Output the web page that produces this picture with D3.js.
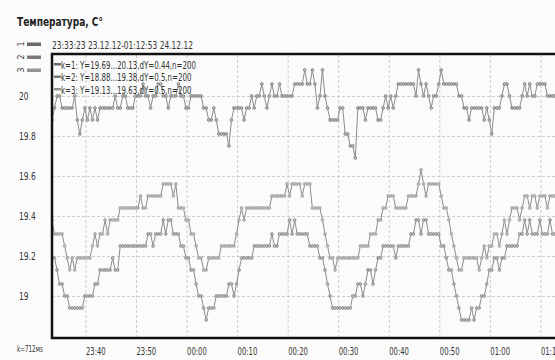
<!DOCTYPE html>
<html><head><meta charset="utf-8">
<script src="https://cdn.jsdelivr.net/npm/d3@7"></script>
<style>body{margin:0;background:#fff}svg{display:block}</style>
</head><body><svg id="c" width="555" height="360"></svg>
<script>
const title = "Температура, С°";
const header = "23:33:23 23.12.12-01:12:53 24.12.12";
const footNote = "k=712мs";
const startTime = "2012-12-23T23:33:23";
const endTime = "2012-12-24T01:12:53";
const yTicks = [19, 19.2, 19.4, 19.6, 19.8, 20];
const yTickLabels = ["19", "19.2", "19.4", "19.6", "19.8", "20"];
const xTicks = ["2012-12-23T23:40:00","2012-12-23T23:50:00","2012-12-24T00:00:00","2012-12-24T00:10:00","2012-12-24T00:20:00","2012-12-24T00:30:00","2012-12-24T00:40:00","2012-12-24T00:50:00","2012-12-24T01:00:00","2012-12-24T01:10:00"];
const xTickLabels = ["23:40","23:50","00:00","00:10","00:20","00:30","00:40","00:50","01:00","01:10"];
const seriesKeys = ["1", "2", "3"];
const seriesLabels = [
  "k=1: Y=19.69...20.13,dY=0.44,n=200",
  "k=2: Y=18.88...19.38,dY=0.5,n=200",
  "k=3: Y=19.13...19.63,dY=0.5,n=200"
];
const seriesColors = ["#6a6a6a", "#7a7a7a", "#949494"];

const series1 = [
19.88,19.94,20,20,19.94,19.94,19.94,19.94,19.94,20,
19.88,19.81,19.88,19.94,19.88,19.94,19.88,19.94,19.88,19.94,
19.94,19.94,19.94,19.94,19.94,20,19.94,19.94,20,20,
19.94,19.94,19.94,20,20,20,20.06,20,20,19.94,
20,20,20.06,20.06,20,20,19.94,20,20,20,
20.06,20,20,19.94,19.94,20,20,20,
20,20,19.94,19.94,19.88,19.88,19.94,19.88,19.81,19.81,19.81,19.81,
19.75,19.88,19.94,19.94,19.94,19.94,19.88,19.94,19.94,20,
19.94,20,20,20.06,20,19.94,20,20.06,20,20,
20.06,20,20,20,20,20,20.06,20.06,20.06,20.06,
20.13,20.06,20.06,20.13,20.06,19.94,20,20.13,20,19.94,
19.88,19.88,19.88,19.88,19.94,19.94,19.81,19.81,19.75,19.75,
19.69,19.94,19.94,19.94,19.88,19.94,19.94,19.94,19.94,19.88,
19.88,19.94,20,19.94,20,19.94,20,20.06,20.06,20.06,
20.06,20.06,20.06,20.06,20,20.13,20.06,20,20.06,20,
19.94,20,20,20.06,20.13,20.06,20.06,20.06,20.06,20.06,
20.06,20,20,19.94,19.94,19.88,19.94,19.94,19.94,19.94,
19.94,19.88,19.94,19.88,19.81,19.94,19.94,19.94,20,20.06,
20.06,20,19.94,19.94,19.94,19.94,20,20.06,20,20.06,
20,20,20.06,20.06,20.06,20.06,20,20,20,20
];
const series2 = [
19.19,19.19,19.13,19.06,19.06,19,19,18.94,18.94,18.94,
18.94,18.94,18.94,19,19,19,19,19.06,19.06,19.13,
19.13,19.13,19.13,19.13,19.19,19.13,19.13,19.25,19.25,19.25,
19.25,19.25,19.25,19.25,19.25,19.25,19.25,19.25,19.31,19.31,
19.25,19.31,19.31,19.31,19.38,19.31,19.38,19.38,19.31,19.31,
19.31,19.25,19.25,19.19,19.19,19.13,19.13,19.06,19,19,
18.94,18.88,18.94,18.94,18.94,19,19,19,19,19,
19.06,19.06,19,19.06,19.13,19.19,19.19,19.19,19.19,19.19,
19.25,19.25,19.25,19.25,19.25,19.25,19.25,19.31,19.25,19.25,
19.31,19.31,19.31,19.31,19.38,19.31,19.38,19.31,19.31,19.31,
19.31,19.31,19.25,19.25,19.25,19.25,19.19,19.19,19.13,19.06,
19,18.94,18.94,18.94,18.94,18.94,18.94,18.94,18.94,19,
19,19.06,19.06,19,19.06,19.13,19.13,19.06,19.13,19.19,
19.19,19.25,19.25,19.25,19.25,19.25,19.19,19.25,19.25,19.25,
19.25,19.25,19.31,19.31,19.38,19.38,19.31,19.38,19.38,19.31,
19.31,19.31,19.31,19.31,19.25,19.25,19.19,19.13,19.13,19.06,
19,18.94,18.88,18.88,18.88,18.88,18.94,18.88,18.94,18.94,
19,19,19.06,19.13,19.13,19.19,19.19,19.13,19.19,19.19,
19.25,19.25,19.25,19.25,19.25,19.31,19.31,19.38,19.31,19.38,
19.31,19.31,19.31,19.38,19.31,19.31,19.31,19.38,19.31,19.31
];
const series3 = [
19.38,19.31,19.31,19.31,19.31,19.25,19.19,19.13,19.19,19.13,
19.19,19.19,19.19,19.19,19.19,19.19,19.25,19.31,19.25,19.31,
19.31,19.38,19.31,19.38,19.38,19.38,19.38,19.44,19.44,19.44,
19.44,19.44,19.44,19.44,19.44,19.5,19.44,19.44,19.5,19.5,
19.5,19.5,19.5,19.5,19.56,19.56,19.56,19.56,19.5,19.56,
19.44,19.44,19.44,19.38,19.38,19.31,19.31,19.25,19.19,19.19,
19.13,19.13,19.19,19.19,19.19,19.19,19.19,19.25,19.25,19.25,
19.25,19.25,19.25,19.31,19.38,19.44,19.38,19.44,19.44,19.44,
19.44,19.44,19.44,19.44,19.44,19.44,19.44,19.5,19.5,19.5,
19.5,19.5,19.5,19.56,19.5,19.56,19.56,19.56,19.56,19.5,
19.56,19.56,19.56,19.44,19.44,19.44,19.44,19.38,19.31,19.25,
19.19,19.19,19.13,19.19,19.19,19.19,19.19,19.19,19.19,19.19,
19.19,19.19,19.25,19.25,19.25,19.25,19.31,19.31,19.31,19.38,
19.38,19.44,19.44,19.5,19.5,19.5,19.44,19.44,19.44,19.44,
19.44,19.5,19.5,19.5,19.5,19.56,19.63,19.56,19.5,19.56,
19.56,19.56,19.56,19.56,19.5,19.44,19.44,19.38,19.31,19.25,
19.19,19.13,19.13,19.19,19.19,19.19,19.19,19.19,19.19,19.13,
19.19,19.25,19.19,19.25,19.25,19.31,19.31,19.25,19.31,19.38,
19.31,19.38,19.44,19.44,19.44,19.38,19.44,19.5,19.5,19.44,
19.5,19.5,19.44,19.5,19.5,19.5,19.44,19.5,19.5,19.5
];
const seriesValues = [series1, series2, series3];

const svg = d3.select("#c");
const plot = {left: 52, top: 54, right: 556, bottom: 338};
const t0 = new Date(startTime), t1 = new Date(endTime);
const x = d3.scaleTime().domain([t0, t1]).range([52, 555]);
const y = d3.scaleLinear().domain([18.79, 20.21]).range([plot.bottom, plot.top]);
const FONT = "DejaVu Sans";

function squeeze(sel, f) {
  sel.each(function () {
    const w = this.getComputedTextLength();
    this.setAttribute("textLength", (w * f).toFixed(1));
    this.setAttribute("lengthAdjust", "spacingAndGlyphs");
  });
}

svg.append("rect").attr("width", 555).attr("height", 360).attr("fill", "#fbfbfb");

// grid
const gridX = svg.append("g").attr("transform", `translate(0,${plot.bottom})`)
  .call(d3.axisBottom(x).tickValues(xTicks.map(s => new Date(s)))
    .tickSize(-(plot.bottom - plot.top)).tickFormat(""));
gridX.select(".domain").remove();
gridX.selectAll("line").attr("stroke", "#cdcdcd").attr("stroke-dasharray", "3,2");
const gridY = svg.append("g").attr("transform", `translate(${plot.left},0)`)
  .call(d3.axisLeft(y).tickValues(yTicks).tickSize(-(plot.right - plot.left)).tickFormat(""));
gridY.select(".domain").remove();
gridY.selectAll("line").attr("stroke", "#cdcdcd").attr("stroke-dasharray", "3,2");

// series
svg.append("clipPath").attr("id", "clip").append("rect")
  .attr("x", plot.left).attr("y", plot.top).attr("width", plot.right - plot.left).attr("height", plot.bottom - plot.top);
const n = series1.length;
const timeAt = i => new Date(+t0 + (t1 - t0) * i / (n - 1));
const line = d3.line().x(d => x(d.t)).y(d => y(d.v));
const gSeries = svg.append("g").attr("clip-path", "url(#clip)");
seriesValues.forEach((vals, k) => {
  const pts = vals.map((v, i) => ({t: timeAt(i), v}));
  gSeries.append("path").datum(pts).attr("d", line)
    .attr("fill", "none").attr("stroke", "#8c8c8c").attr("stroke-width", 1);
  gSeries.selectAll(null).data(pts).enter().append("circle")
    .attr("cx", d => x(d.t)).attr("cy", d => y(d.v)).attr("r", 1.4)
    .attr("fill", "#c4c4c4").attr("stroke", seriesColors[k]).attr("stroke-width", 0.7);
});

// frame
svg.append("rect").attr("x", plot.left).attr("y", plot.top)
  .attr("width", 520).attr("height", plot.bottom - plot.top)
  .attr("fill", "none").attr("stroke", "#111").attr("stroke-width", 2.5);

// y labels
const yAx = svg.append("g").attr("transform", "translate(19,0)")
  .call(d3.axisLeft(y).tickValues(yTicks).tickSize(0).tickPadding(0)
    .tickFormat((d, i) => yTickLabels[i]));
yAx.select(".domain").remove();
yAx.selectAll("text").attr("x", 0).attr("text-anchor", "start")
  .attr("font-family", FONT).attr("font-size", 11).attr("fill", "#333");
squeeze(yAx.selectAll("text"), 0.68);

// x labels
const xAx = svg.append("g").attr("transform", `translate(0,347)`)
  .call(d3.axisBottom(x).tickValues(xTicks.map(s => new Date(s))).tickSize(0).tickPadding(0)
    .tickFormat((d, i) => xTickLabels[i]));
xAx.select(".domain").remove();
xAx.selectAll("text").attr("text-anchor", "start").attr("dy", "0.71em")
  .attr("font-family", FONT).attr("font-size", 11).attr("fill", "#333");
squeeze(xAx.selectAll("text"), 0.62);

// title
const tt = svg.append("text").attr("x", 17).attr("y", 26).text(title)
  .attr("font-family", FONT).attr("font-size", 13).attr("font-weight", "bold").attr("fill", "#222");
tt.attr("textLength", 86).attr("lengthAdjust", "spacingAndGlyphs");

// header
svg.append("text").attr("x", 52).attr("y", 49).text(header)
  .attr("font-family", FONT).attr("font-size", 11).attr("fill", "#333")
  .attr("textLength", 141).attr("lengthAdjust", "spacingAndGlyphs");

// foot
const ft = svg.append("text").attr("x", 17).attr("y", 352).text(footNote)
  .attr("font-family", FONT).attr("font-size", 8.5).attr("fill", "#333");
squeeze(ft, 0.66);

// left legend swatches
const legL = svg.append("g");
seriesKeys.forEach((k, i) => {
  const cy = 44 + i * 13;
  legL.append("text").attr("transform", `translate(24,${cy}) rotate(-90)`)
    .attr("text-anchor", "middle").text(k)
    .attr("font-family", FONT).attr("font-size", 8).attr("fill", "#444");
  legL.append("rect").attr("x", 27).attr("y", cy - 1.5).attr("width", 14).attr("height", 3.5)
    .attr("fill", seriesColors[i]);
});

// in-plot legend
seriesLabels.forEach((s, i) => {
  const cy = 65 + i * 12.5;
  svg.append("rect").attr("x", 54).attr("y", cy - 2).attr("width", 7).attr("height", 2.5)
    .attr("fill", seriesColors[i]);
  const t = svg.append("text").attr("x", 61).attr("y", cy + 3.5).text(s)
    .attr("font-family", FONT).attr("font-size", 11).attr("fill", "#333");
  squeeze(t, 0.64);
});
</script></body></html>
